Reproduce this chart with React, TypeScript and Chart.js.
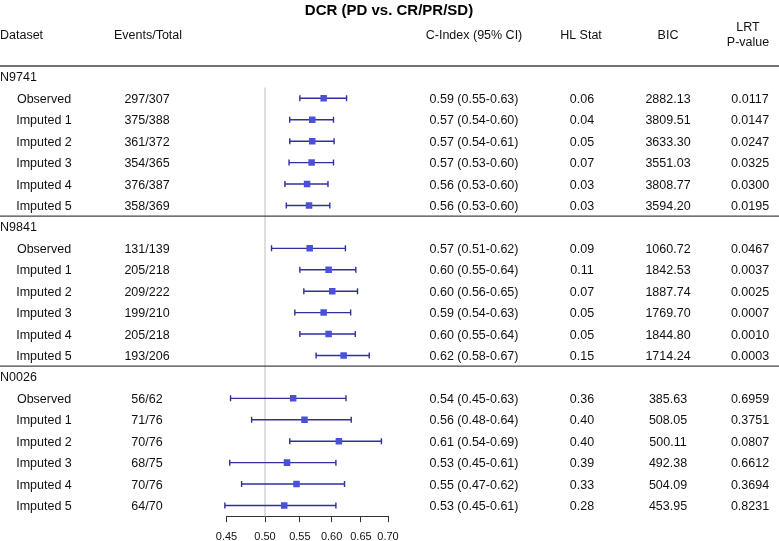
import React, { useEffect, useRef } from 'react';
import { Chart, registerables } from 'chart.js';

Chart.register(...registerables);

const title = 'DCR (PD vs. CR/PR/SD)';
const groups = ['N9741', 'N9841', 'N0026'];
const subLabels = ['Observed', 'Imputed 1', 'Imputed 2', 'Imputed 3', 'Imputed 4', 'Imputed 5'];

const eventsTotal = [
  '297/307', '375/388', '361/372', '354/365', '376/387', '358/369',
  '131/139', '205/218', '209/222', '199/210', '205/218', '193/206',
  '56/62', '71/76', '70/76', '68/75', '70/76', '64/70',
];
const estimate = [
  0.587, 0.569, 0.569, 0.568, 0.561, 0.564,
  0.565, 0.595, 0.601, 0.587, 0.595, 0.620,
  0.540, 0.557, 0.612, 0.531, 0.545, 0.527,
];
const lower = [
  0.550, 0.535, 0.535, 0.534, 0.528, 0.530,
  0.509, 0.550, 0.556, 0.5425, 0.550, 0.575,
  0.455, 0.482, 0.535, 0.454, 0.469, 0.448,
];
const upper = [
  0.625, 0.603, 0.604, 0.603, 0.594, 0.597,
  0.623, 0.641, 0.644, 0.632, 0.640, 0.665,
  0.624, 0.633, 0.6875, 0.607, 0.6215, 0.607,
];
const ciText = [
  '0.59 (0.55-0.63)', '0.57 (0.54-0.60)', '0.57 (0.54-0.61)', '0.57 (0.53-0.60)', '0.56 (0.53-0.60)', '0.56 (0.53-0.60)',
  '0.57 (0.51-0.62)', '0.60 (0.55-0.64)', '0.60 (0.56-0.65)', '0.59 (0.54-0.63)', '0.60 (0.55-0.64)', '0.62 (0.58-0.67)',
  '0.54 (0.45-0.63)', '0.56 (0.48-0.64)', '0.61 (0.54-0.69)', '0.53 (0.45-0.61)', '0.55 (0.47-0.62)', '0.53 (0.45-0.61)',
];
const hlStat = [
  '0.06', '0.04', '0.05', '0.07', '0.03', '0.03',
  '0.09', '0.11', '0.07', '0.05', '0.05', '0.15',
  '0.36', '0.40', '0.40', '0.39', '0.33', '0.28',
];
const bic = [
  '2882.13', '3809.51', '3633.30', '3551.03', '3808.77', '3594.20',
  '1060.72', '1842.53', '1887.74', '1769.70', '1844.80', '1714.24',
  '385.63', '508.05', '500.11', '492.38', '504.09', '453.95',
];
const lrtP = [
  '0.0117', '0.0147', '0.0247', '0.0325', '0.0300', '0.0195',
  '0.0467', '0.0037', '0.0025', '0.0007', '0.0010', '0.0003',
  '0.6959', '0.3751', '0.0807', '0.6612', '0.3694', '0.8231',
];
const xTicks = [0.45, 0.5, 0.55, 0.6, 0.65, 0.7];
const refValue = 0.5;

const FONT = '"Liberation Sans", Arial, sans-serif';
const TEXT = '#111';
const LINE_COLOR = '#30309a';
const BOX_COLOR = '#4a50d8';

function rowIndex(i: number) {
  const g = Math.floor(i / 6);
  const k = i % 6;
  return g * 7 + 1 + k;
}

const forestPlugin = {
  id: 'forestPlugin',
  beforeDatasetsDraw(chart: any) {
    const { ctx, chartArea, scales } = chart;
    const xs = scales.x;
    const ys = scales.y;
    ctx.save();
    const rx = xs.getPixelForValue(refValue);
    ctx.strokeStyle = '#d4d4d4';
    ctx.lineWidth = 1.5;
    ctx.beginPath();
    ctx.moveTo(rx, chartArea.top);
    ctx.lineTo(rx, chartArea.bottom);
    ctx.stroke();
    ctx.strokeStyle = LINE_COLOR;
    ctx.lineWidth = 1.4;
    for (let i = 0; i < estimate.length; i++) {
      const y = ys.getPixelForValue(rowIndex(i));
      const x1 = xs.getPixelForValue(lower[i]);
      const x2 = xs.getPixelForValue(upper[i]);
      ctx.beginPath();
      ctx.moveTo(x1, y);
      ctx.lineTo(x2, y);
      ctx.moveTo(x1, y - 3);
      ctx.lineTo(x1, y + 3);
      ctx.moveTo(x2, y - 3);
      ctx.lineTo(x2, y + 3);
      ctx.stroke();
    }
    ctx.restore();
  },
  afterDraw(chart: any) {
    const { ctx, scales, width } = chart;
    const ys = scales.y;
    ctx.save();
    ctx.fillStyle = '#000';
    ctx.textAlign = 'center';
    ctx.textBaseline = 'alphabetic';
    ctx.font = `bold 15px ${FONT}`;
    ctx.fillText(title, 389, 15);

    ctx.fillStyle = TEXT;
    ctx.font = `12.5px ${FONT}`;
    ctx.textAlign = 'left';
    ctx.fillText('Dataset', 0, 39);
    ctx.textAlign = 'center';
    ctx.fillText('Events/Total', 148, 39);
    ctx.fillText('C-Index (95% CI)', 474, 39);
    ctx.fillText('HL Stat', 581, 39);
    ctx.fillText('BIC', 668, 39);
    ctx.fillText('LRT', 748, 30.5);
    ctx.fillText('P-value', 748, 46);

    ctx.strokeStyle = '#444';
    ctx.lineWidth = 1.3;
    const lines = [66, (ys.getPixelForValue(6) + ys.getPixelForValue(7)) / 2, (ys.getPixelForValue(13) + ys.getPixelForValue(14)) / 2];
    lines.forEach((ly) => {
      ctx.beginPath();
      ctx.moveTo(0, ly);
      ctx.lineTo(width, ly);
      ctx.stroke();
    });

    groups.forEach((g, gi) => {
      const y = ys.getPixelForValue(gi * 7) + 4.5;
      ctx.textAlign = 'left';
      ctx.fillText(g, 0, y);
    });
    for (let i = 0; i < estimate.length; i++) {
      const y = ys.getPixelForValue(rowIndex(i)) + 4.5;
      ctx.textAlign = 'center';
      ctx.fillText(subLabels[i % 6], 44, y);
      ctx.fillText(eventsTotal[i], 147, y);
      ctx.fillText(ciText[i], 474, y);
      ctx.fillText(hlStat[i], 582, y);
      ctx.fillText(bic[i], 668, y);
      ctx.fillText(lrtP[i], 750, y);
    }
    ctx.restore();
  },
};

export default function App() {
  const ref = useRef<HTMLCanvasElement | null>(null);
  useEffect(() => {
    if (!ref.current) return;
    const chart = new Chart(ref.current, {
      type: 'scatter',
      data: {
        datasets: [
          {
            data: estimate.map((v, i) => ({ x: v, y: rowIndex(i) })),
            pointStyle: 'rect',
            pointRadius: 4.6,
            pointHoverRadius: 4.6,
            backgroundColor: BOX_COLOR,
            borderColor: BOX_COLOR,
            borderWidth: 0,
          },
        ],
      },
      options: {
        animation: false,
        responsive: false,
        devicePixelRatio: 1,
        events: [],
        layout: { padding: { left: 226.5, right: 391, top: 87.6, bottom: 0 } },
        plugins: { legend: { display: false }, tooltip: { enabled: false }, title: { display: false } },
        scales: {
          x: {
            type: 'logarithmic',
            min: 0.45,
            max: 0.7,
            afterBuildTicks: (scale: any) => {
              scale.ticks = xTicks.map((v) => ({ value: v }));
            },
            afterFit: (scale: any) => {
              scale.height = 24.8;
            },
            grid: { display: true, drawOnChartArea: false, drawTicks: true, tickLength: 6, color: '#333', lineWidth: 1 },
            border: { display: true, color: '#333', width: 1 },
            ticks: {
              autoSkip: false,
              maxRotation: 0,
              padding: 8,
              color: TEXT,
              font: { family: FONT, size: 11 },
              callback: (v: any) => Number(v).toFixed(2),
            },
          },
          y: {
            type: 'linear',
            display: false,
            reverse: true,
            min: 0.5,
            max: 20.5,
          },
        },
      },
      plugins: [forestPlugin],
    });
    return () => chart.destroy();
  }, []);
  return (
    <div style={{ position: 'fixed', left: 0, top: 0, width: 779, height: 541 }}>
      <canvas ref={ref} width={779} height={541} style={{ width: 779, height: 541 }} />
    </div>
  );
}
